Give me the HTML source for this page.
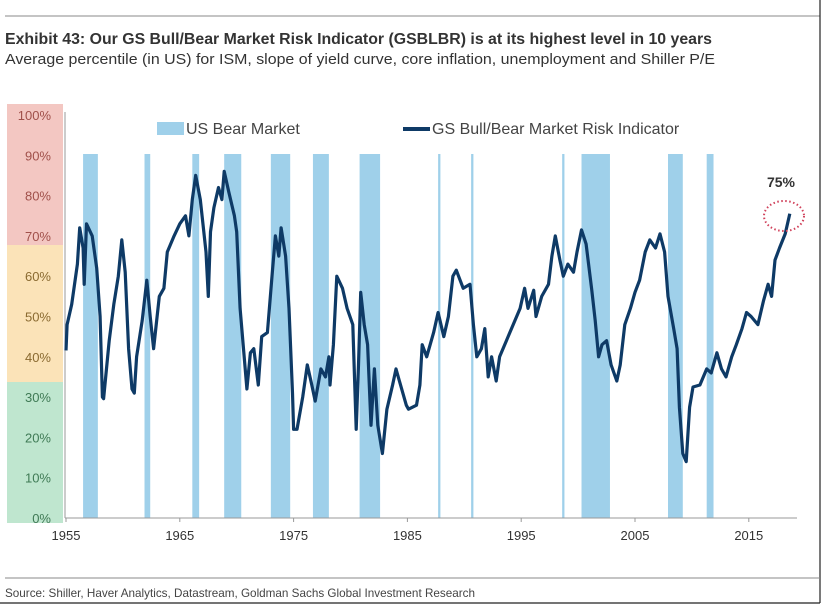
<!DOCTYPE html>
<html><head><meta charset="utf-8"><style>
body{margin:0;background:#fff;width:838px;height:616px;overflow:hidden;font-family:"Liberation Sans",sans-serif}
svg{display:block}
</style></head><body>
<svg width="838" height="616" xmlns="http://www.w3.org/2000/svg">
<line x1="5" y1="16" x2="820" y2="16" stroke="#888" stroke-width="1"/>
<line x1="820" y1="0" x2="820" y2="603" stroke="#222" stroke-width="1.2"/>
<line x1="0" y1="603" x2="820" y2="603" stroke="#222" stroke-width="1.2"/>
<text x="5" y="44" font-size="15.5" font-weight="bold" fill="#333" textLength="707" lengthAdjust="spacingAndGlyphs">Exhibit 43: Our GS Bull/Bear Market Risk Indicator (GSBLBR) is at its highest level in 10 years</text>
<text x="5" y="64" font-size="14.5" fill="#333" textLength="710" lengthAdjust="spacingAndGlyphs">Average percentile (in US) for ISM, slope of yield curve, core inflation, unemployment and Shiller P/E</text>
<rect x="7" y="104" width="56" height="141" fill="#f3c7c2"/>
<rect x="7" y="245" width="56" height="137" fill="#fbe3b8"/>
<rect x="7" y="382" width="56" height="141" fill="#bfe6cf"/>
<g id="bands"></g>
<g id="yax"></g>
<g id="xax"></g>
<path id="line" fill="none" stroke="#0e3a66" stroke-width="3.2" stroke-linejoin="round"/>
<rect x="157" y="122" width="27" height="13" fill="#9fd0ea"/>
<text x="186" y="134" font-size="16" fill="#444">US Bear Market</text>
<line x1="403" y1="129" x2="430" y2="129" stroke="#0e3a66" stroke-width="4"/>
<text x="432" y="134" font-size="16" fill="#444">GS Bull/Bear Market Risk Indicator</text>
<text x="781" y="187" font-size="14" font-weight="bold" fill="#333" text-anchor="middle">75%</text>
<ellipse cx="784" cy="216" rx="20" ry="15" fill="none" stroke="#d0405a" stroke-width="2" stroke-dasharray="1.5 2.5"/>
<line x1="5" y1="578" x2="820" y2="578" stroke="#888" stroke-width="1"/>
<text x="5" y="597" font-size="12" fill="#444" textLength="470" lengthAdjust="spacingAndGlyphs">Source: Shiller, Haver Analytics, Datastream, Goldman Sachs Global Investment Research</text>
</svg>
<script>
const years=[1955,1955.1,1955.5,1956,1956.2,1956.5,1956.6,1956.8,1957.3,1957.7,1958.0,1958.2,1958.3,1958.8,1959.2,1959.6,1959.9,1960.2,1960.5,1960.8,1961.0,1961.2,1961.7,1962.1,1962.4,1962.7,1963.2,1963.6,1963.9,1964.5,1965.0,1965.5,1965.8,1966.1,1966.4,1966.8,1967.3,1967.5,1967.7,1968.0,1968.4,1968.7,1968.9,1969.3,1969.8,1970.0,1970.3,1970.6,1970.9,1971.2,1971.5,1971.9,1972.2,1972.7,1973.1,1973.4,1973.7,1973.9,1974.3,1974.6,1974.9,1975.0,1975.3,1975.8,1976.2,1976.6,1976.9,1977.4,1977.8,1978.1,1978.2,1978.5,1978.8,1979.3,1979.7,1980.2,1980.5,1980.7,1980.9,1981.2,1981.5,1981.8,1982.1,1982.4,1982.8,1983.2,1983.7,1984.0,1984.3,1984.9,1985.1,1985.8,1986.1,1986.3,1986.7,1987.3,1987.7,1988.2,1988.6,1989.0,1989.3,1989.9,1990.5,1990.8,1991.1,1991.5,1991.8,1992.1,1992.4,1992.8,1993.1,1993.7,1994.3,1994.9,1995.3,1995.6,1996.1,1996.3,1996.8,1997.4,1997.7,1998.0,1998.4,1998.7,1999.1,1999.6,1999.9,2000.3,2000.7,2001.2,2001.5,2001.8,2002.1,2002.5,2002.9,2003.4,2003.7,2004.1,2004.6,2005.0,2005.4,2005.9,2006.3,2006.8,2007.2,2007.6,2007.9,2008.4,2008.7,2008.9,2009.2,2009.5,2009.8,2010.1,2010.7,2011.3,2011.7,2012.2,2012.6,2013.0,2013.5,2013.9,2014.4,2014.8,2015.2,2015.8,2016.3,2016.7,2017.0,2017.3,2017.7,2018.2,2018.6];
const values=[41.6,48,53,63,72,67,58,73,70,62,50,30,29.6,44,53,60,69,61,42,32,31,40,49,59,50,42,55,57,66,70,73,75,70,79,85,79,66,55,71,77,82,79,86,81,75,71,52,42,32,41,42,33,45,46,60,70,65,72,65,52,31,22,22,30,38,33,29,37,35,40,33,43,60,57,52,48,22,38,56,48,43,23,37,23,16,27,33,37,34,28,27,28,33,43,40,46,51,45,50,60,61.5,57,58,48,40,42,47,35,40,34,40,44,48,52,57,52,56.5,50,55,58,65,70,64,60,63,61,66,71.5,68,56.5,49,40,43,44,38,34,38,48,52,56,59,66,69,67,70.5,66,55,47,42,27.5,16,14,27.5,32.5,33,37,36,41,37,35,40,43,47,51,50,48,54,58,55,64,67,70.5,75.5];
const bearStarts=[1956.5,1961.9,1966.1,1968.9,1973.0,1976.7,1980.8,1987.7,1990.6,1998.6,2000.3,2007.9,2011.3];
const bearEnds=[1957.8,1962.4,1966.7,1970.4,1974.7,1978.1,1982.6,1987.9,1990.8,1998.8,2002.8,2009.2,2011.9];
const yTicks=[0,10,20,30,40,50,60,70,80,90,100];
const xTicks=[1955,1965,1975,1985,1995,2005,2015];
const NS='http://www.w3.org/2000/svg';
const X=y=>66+(y-1955)*11.38;
const Y=v=>518-v*4.03;
function mk(tag,attrs,parent){const e=document.createElementNS(NS,tag);for(const k in attrs)e.setAttribute(k,attrs[k]);parent.appendChild(e);return e;}
const bg=document.getElementById('bands');
bearStarts.forEach((s,i)=>{
  const r=mk('rect',{x:X(s),y:154,width:Math.max(1.5,X(bearEnds[i])-X(s)),height:518-154,fill:'#9fd0ea'},bg);
  
  
});
const ya=document.getElementById('yax');
const axl=mk('line',{x1:65,y1:112,x2:65,y2:518,stroke:'#999','stroke-width':1},ya);


const yCol=v=>v>=70?'#a0504a':(v>=40?'#8a6a30':'#3f7a55');
yTicks.forEach(v=>{
  const t=mk('text',{x:51,y:Y(v)+5,'font-size':13,'text-anchor':'end',fill:yCol(v)},ya);
  t.textContent=v+'%';
  
  
});
const xa=document.getElementById('xax');
const xl=mk('line',{x1:65,y1:518,x2:797,y2:518,stroke:'#999','stroke-width':1},xa);


xTicks.forEach(v=>{
  const tk=mk('line',{x1:X(v),y1:518,x2:X(v),y2:522,stroke:'#999'},xa);
  
  
  const t=mk('text',{x:X(v),y:540,'font-size':13,'text-anchor':'middle',fill:'#333'},xa);
  t.textContent=v;
  
  
});
document.getElementById('line').setAttribute('d',years.map((y,i)=>(i?'L':'M')+X(y).toFixed(1)+','+Y(values[i]).toFixed(1)).join(''));
</script>
</body></html>
